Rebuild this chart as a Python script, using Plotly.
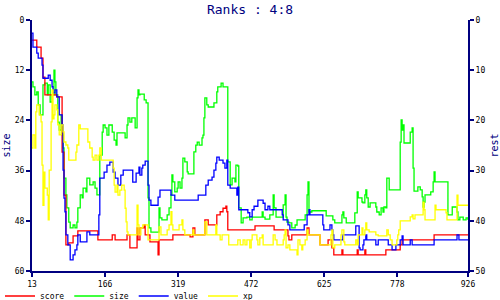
import plotly.graph_objects as go

# ---------------- data ----------------
score_x = [13, 23, 32, 36, 40, 65, 76, 80, 84, 90, 99, 109, 151, 181, 187, 212, 218, 233, 235,
           239, 248, 250, 260, 277, 279, 308, 344, 350, 354, 375, 382, 400, 407, 413, 419, 421, 423,
           480, 520, 549, 551, 557, 589, 593, 616, 633, 641, 645, 662, 664, 694, 696,
           710, 712, 754, 784, 788, 855, 926]
score_y = [4.0, 5.4, 7.6, 11.4, 14.9, 15.3, 26.3, 34.9, 44.8, 44.4, 43.0, 42.0, 43.8, 42.8, 43.8, 42.8, 45.4, 41.4, 43.8,
           41.4, 40.8, 42.8, 44.2, 46.8, 43.8, 42.8, 43.2, 41.4, 42.8, 39.8, 40.8, 38.8, 38.2, 37.5, 37.1, 38.2, 41.8,
           41.0, 41.8, 43.0, 43.8, 42.8, 41.4, 42.8, 44.8, 43.8, 45.4, 46.8, 45.8, 46.8, 45.8, 46.8,
           45.8, 46.8, 45.8, 44.8, 43.8, 42.8, 42.8]

size_x = [13, 15, 19, 23, 26, 30, 36, 40, 45, 47, 51, 55, 59, 61, 63, 67, 70, 74, 76, 78, 80, 84, 86, 90, 93,
          99, 103, 107, 109, 114, 118, 120, 126, 128, 134, 141, 145, 149, 155, 160, 162, 166, 170, 174, 181,
          185, 189, 191, 208, 212, 214, 218, 222, 229, 233, 235, 237,
          239, 248, 252, 256, 258, 262, 279, 281, 285, 296, 300, 304, 306, 308, 312, 317, 319, 323, 327, 329,
          333, 338, 340, 352, 356, 359, 363, 369, 371, 373, 375, 379, 382, 394, 400, 402, 409, 413, 423, 428,
          432, 438, 440, 444, 446, 451, 455, 463, 469,
          474, 495, 497, 501, 511, 518, 520, 524, 539, 543, 545, 547, 551, 557, 564, 568, 585, 589, 591, 593,
          599, 629, 643, 647, 662, 664, 666, 671, 689, 694, 696,
          704, 706, 710, 712, 714, 717, 721, 733, 735, 740, 744, 748, 750, 754, 756, 761, 784, 786, 788, 790,
          792, 805, 809, 811, 813, 821, 826, 830, 832, 834, 836, 848, 853, 855, 857, 884, 893, 903, 905, 909,
          916, 922, 926]
size_y = [14.8, 16.0, 17.9, 17.2, 20.3, 22.7, 15.5, 15.1, 17.9, 15.5, 19.6, 17.9, 12.0, 14.8, 17.9, 24.4, 26.3, 22.7, 27.5, 30.6, 37.8, 41.8, 44.9, 48.3, 49.7,
          49.0, 49.7, 48.3, 44.9, 41.8, 42.5, 40.2, 41.1, 37.8, 39.4, 38.7, 40.2, 41.8, 32.3, 26.8, 25.1, 25.8, 27.5, 25.1, 26.8,
          28.7, 29.9, 27.0, 28.2, 25.1, 23.4, 24.4, 23.4, 25.8, 18.6, 16.7, 17.9,
          17.7, 19.1, 19.8, 42.5, 49.7, 50.7, 44.9, 47.3, 47.8, 46.6, 44.9, 41.8, 37.0, 38.7, 41.1, 40.2, 38.7, 40.2, 37.8, 33.0,
          33.9, 36.3, 36.8, 31.5, 29.9, 29.2, 29.9, 28.2, 27.5, 23.4, 18.6, 20.3, 20.8, 19.8, 17.2, 16.0, 15.1, 16.0, 33.9, 39.4,
          37.8, 38.7, 34.7, 34.9, 44.9, 48.5, 47.3, 47.1, 47.8,
          47.1, 45.9, 47.1, 47.6, 46.6, 41.8, 44.9, 47.1, 44.2, 41.8, 47.1, 48.3, 48.5, 49.7, 49.0, 47.8, 46.6, 41.8, 38.7, 45.9,
          45.6, 46.8, 47.8, 48.5, 46.6, 45.9, 47.3, 48.5, 46.1, 41.1, 42.5,
          43.5, 43.7, 41.8, 40.6, 42.5, 44.7, 43.7, 44.7, 45.9, 46.6, 44.9, 45.9, 44.7, 44.9, 37.8, 40.6, 29.2, 23.9, 26.3, 25.1,
          29.4, 26.8, 25.8, 35.4, 40.9, 39.9, 40.6, 42.3, 44.7, 43.5, 41.8, 41.1, 38.7, 36.3, 38.7, 46.6, 44.7, 45.9, 47.8, 47.1,
          47.8, 47.3, 47.8]

value_x = [13, 15, 23, 26, 34, 36, 47, 51, 55, 57, 61, 65, 70, 76, 78, 80, 82, 84, 88, 93, 99, 103, 107, 109, 114,
           128, 134, 153, 155, 164, 170, 176, 183, 187, 193, 199, 204, 224, 231, 237,
           239, 243, 245, 250, 256, 258, 262, 277, 281, 304, 312, 361, 377, 382, 390, 394, 398, 400, 405, 413,
           417, 421, 423, 428, 442, 444, 446, 465,
           469, 474, 478, 486, 497, 501, 507, 511, 537, 539, 549, 553, 583, 589, 593, 595, 622, 624, 637, 641,
           643, 645, 664, 691, 698,
           700, 706, 708, 712, 714, 733, 738, 759, 767, 775, 784, 788, 790, 805, 809, 855, 903, 907, 926]
value_y = [2.6, 5.4, 6.6, 7.6, 9.0, 11.6, 11.0, 12.0, 13.3, 14.5, 13.9, 15.3, 18.9, 20.9, 29.9, 35.5, 38.2, 42.8, 44.8, 47.8, 46.8, 45.8, 44.8, 42.8, 44.2,
           42.2, 42.8, 38.8, 31.5, 30.3, 28.9, 28.3, 30.3, 31.5, 32.9, 30.9, 29.9, 32.3, 30.5, 29.3,
           30.9, 29.5, 28.9, 28.1, 32.9, 35.9, 36.9, 35.3, 33.9, 34.9, 35.9, 34.9, 32.9, 31.9, 31.3, 29.9, 28.5, 27.3, 27.9, 28.5,
           29.5, 27.9, 32.9, 33.5, 34.9, 33.3, 37.8, 38.4,
           39.2, 37.8, 37.1, 35.9, 36.5, 37.8, 37.1, 37.8, 38.8, 39.8, 40.8, 41.8, 40.8, 38.8, 37.8, 38.8, 40.8, 41.8, 40.8, 41.8,
           42.8, 43.8, 42.8, 41.0, 45.4,
           45.8, 44.8, 43.8, 42.8, 43.8, 44.8, 43.8, 44.8, 45.8, 44.8, 43.8, 43.0, 44.8, 43.8, 44.8, 43.8, 42.8, 43.8, 43.8]

xp_x = [13, 15, 19, 21, 23, 28, 32, 34, 36, 38, 40, 45, 47, 49, 53, 55, 57, 59, 61, 65, 67, 70, 74, 78, 80,
        84, 88, 90, 105, 107, 111, 114, 130, 134, 139, 141, 145, 149, 153, 155, 158, 183, 185, 187, 191,
        193, 197, 201, 206, 208, 210, 212, 214, 233, 235, 237,
        241, 245, 256, 279, 283, 296, 300, 304, 306, 308, 321, 327, 329, 333, 350, 352, 375, 379, 398, 400,
        407, 411, 425, 444, 449, 455, 459, 463,
        469, 472, 474, 484, 486, 490, 495, 497, 518, 522, 526, 539, 541, 543, 545, 549, 553, 568, 570, 574,
        578, 580, 585, 589, 591, 616, 639, 641, 643, 647, 660, 662, 666, 668, 691, 694, 696,
        704, 706, 710, 712, 714, 719, 733, 738, 756, 759, 763, 767, 777, 779, 781, 784, 805, 809, 811, 815,
        832, 834, 836, 857, 859, 880, 882, 903, 905, 926]
xp_y = [25.5, 22.9, 25.5, 18.3, 16.9, 18.9, 20.3, 28.9, 36.9, 30.3, 33.5, 34.9, 39.8, 29.9, 20.3, 13.9, 19.7, 18.9, 16.9, 17.9, 20.9, 22.9, 20.9, 22.3, 24.3,
        24.9, 25.5, 27.9, 26.3, 24.9, 20.9, 21.7, 24.3, 25.5, 27.3, 27.9, 26.9, 27.9, 26.9, 25.5, 27.9, 29.5, 32.9, 34.3, 32.9,
        34.9, 33.9, 32.9, 33.9, 37.5, 40.2, 42.2, 42.8, 36.9, 40.8, 42.8,
        41.4, 40.8, 43.8, 41.2, 42.8, 41.8, 40.8, 38.2, 40.8, 41.8, 40.8, 39.8, 41.8, 42.8, 41.8, 42.8, 40.2, 42.8, 40.8, 42.8,
        43.8, 42.8, 44.8, 43.8, 44.8, 43.8, 44.8, 43.8,
        45.4, 43.8, 42.8, 43.8, 44.8, 43.4, 42.8, 44.8, 42.8, 43.8, 44.8, 43.8, 42.8, 41.8, 45.4, 44.8, 45.8, 46.8, 43.8, 44.8,
        45.8, 44.8, 43.8, 41.8, 42.8, 44.8, 42.8, 41.8, 45.4, 44.8, 42.8, 41.8, 44.2, 44.8, 43.8, 44.8, 42.8,
        41.4, 42.8, 41.8, 40.4, 41.8, 42.2, 42.8, 43.0, 41.8, 42.8, 43.8, 44.8, 43.8, 42.8, 41.8, 40.0, 39.2, 38.8, 39.6, 38.8,
        36.3, 37.8, 39.8, 36.9, 37.8, 38.4, 39.8, 34.9, 36.9, 36.9]

x_ticks = [13, 166, 319, 472, 625, 778, 926]
left_ticks = [0, 12, 24, 36, 48, 60]
right_ticks = [0, 10, 20, 30, 40, 50]

# ---------------- figure ----------------
NAVY = "#000080"
FONT = "DejaVu Sans Mono"
LW = 1.3

fig = go.Figure()
fig.add_trace(go.Scatter(x=score_x, y=score_y, name="score", mode="lines", yaxis="y2",
                         line=dict(color="#FF0000", width=LW, shape="hv")))
fig.add_trace(go.Scatter(x=size_x, y=size_y, name="size", mode="lines", yaxis="y",
                         line=dict(color="#00FF00", width=LW, shape="hv")))
fig.add_trace(go.Scatter(x=value_x, y=value_y, name="value", mode="lines", yaxis="y2",
                         line=dict(color="#0000FF", width=LW, shape="hv")))
fig.add_trace(go.Scatter(x=xp_x, y=xp_y, name="xp", mode="lines", yaxis="y2",
                         line=dict(color="#FFFF00", width=LW, shape="hv")))

axis_common = dict(showgrid=False, zeroline=False, showline=True, linecolor=NAVY, linewidth=2,
                   ticks="outside", ticklen=4, tickwidth=1.5, tickcolor=NAVY,
                   tickfont=dict(family=FONT, size=8, color="black"))

fig.update_layout(
    width=500, height=300,
    margin=dict(l=32, r=32, t=20, b=29, autoexpand=False),
    paper_bgcolor="white", plot_bgcolor="white",
    font=dict(family=FONT, size=8, color="black"),
    title=dict(text="Ranks : 4:8", x=0.5, xanchor="center", y=1 - 9 / 300, yanchor="middle",
               yref="container", font=dict(family=FONT, size=13, color=NAVY)),
    xaxis=dict(range=[13, 926], tickvals=x_ticks, ticktext=[str(v) for v in x_ticks], **axis_common),
    yaxis=dict(range=[60, 0], tickvals=left_ticks, ticktext=[str(v) for v in left_ticks],
               title=dict(text="size", standoff=2, font=dict(family=FONT, size=10, color=NAVY)),
               **axis_common),
    yaxis2=dict(range=[50, 0], tickvals=right_ticks, ticktext=[str(v) for v in right_ticks],
                overlaying="y", side="right",
                title=dict(text="rest", standoff=8, font=dict(family=FONT, size=10, color=NAVY)),
                **axis_common),
    showlegend=True,
    legend=dict(orientation="h", x=-32 / 436, xanchor="left", y=-25 / 251, yanchor="middle",
                font=dict(family=FONT, size=8, color="black"), itemwidth=30,
                bgcolor="rgba(0,0,0,0)", borderwidth=0, tracegroupgap=0),
)

fig.write_html("out.html")
